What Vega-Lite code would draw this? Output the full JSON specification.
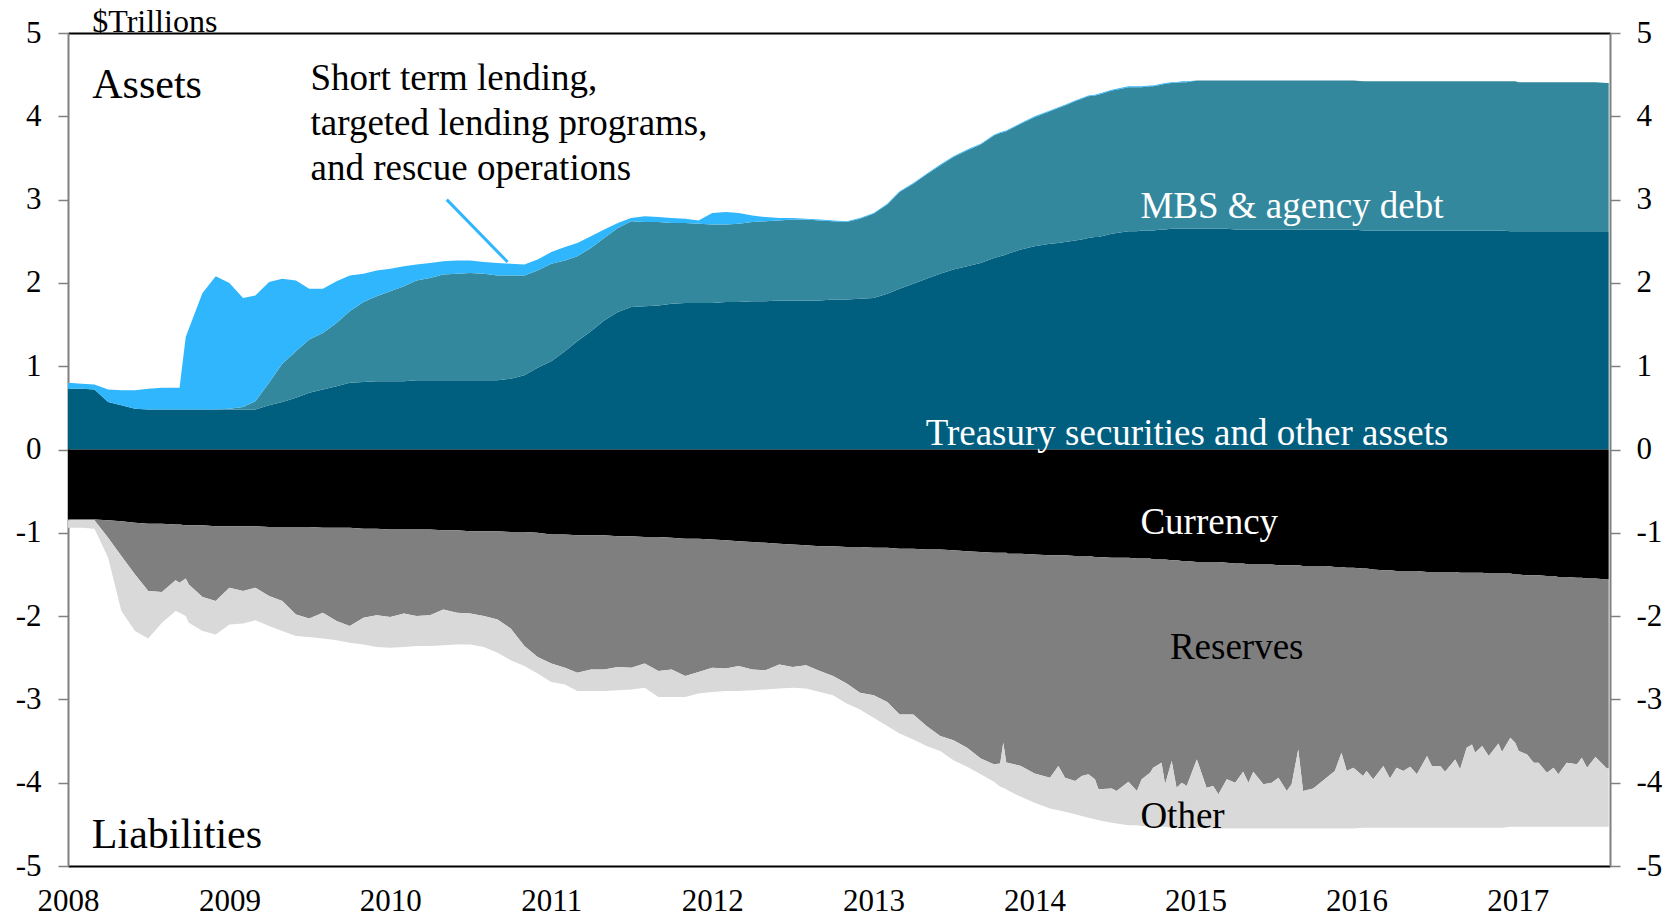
{
  "$schema": "https://vega.github.io/schema/vega-lite/v6.json",
  "width": 1542,
  "height": 833,
  "autosize": {"type": "none"},
  "padding": {"left": 68, "top": 33, "right": 70, "bottom": 52},
  "background": "white",
  "config": {
    "view": {"stroke": null},
    "font": "Liberation Serif",
    "axis": {"labelFont": "Liberation Serif", "labelFontSize": 31, "labelColor": "black", "grid": false, "title": null}
  },
  "datasets": {
    "stackorder": [
      {"series": "Treasury", "rank": 1},
      {"series": "MBS", "rank": 2},
      {"series": "Lending", "rank": 3},
      {"series": "Currency", "rank": 4},
      {"series": "Reserves", "rank": 5},
      {"series": "Other", "rank": 6}
    ],
    "balance": [
      {"d": "2008-01-01", "Treasury": 0.73, "MBS": 0, "Lending": 0.07, "Currency": -0.84, "Reserves": -0.01, "Other": -0.09},
      {"d": "2008-02-01", "Treasury": 0.73, "MBS": 0, "Lending": 0.06, "Currency": -0.84, "Reserves": -0.01, "Other": -0.09},
      {"d": "2008-03-01", "Treasury": 0.72, "MBS": 0, "Lending": 0.06, "Currency": -0.84, "Reserves": -0.01, "Other": -0.10},
      {"d": "2008-04-01", "Treasury": 0.57, "MBS": 0, "Lending": 0.15, "Currency": -0.85, "Reserves": -0.21, "Other": -0.24},
      {"d": "2008-05-01", "Treasury": 0.53, "MBS": 0, "Lending": 0.18, "Currency": -0.86, "Reserves": -0.42, "Other": -0.66},
      {"d": "2008-06-01", "Treasury": 0.49, "MBS": 0, "Lending": 0.22, "Currency": -0.88, "Reserves": -0.62, "Other": -0.68},
      {"d": "2008-07-01", "Treasury": 0.48, "MBS": 0, "Lending": 0.25, "Currency": -0.89, "Reserves": -0.81, "Other": -0.57},
      {"d": "2008-08-01", "Treasury": 0.48, "MBS": 0, "Lending": 0.26, "Currency": -0.89, "Reserves": -0.82, "Other": -0.37},
      {"d": "2008-09-01", "Treasury": 0.48, "MBS": 0, "Lending": 0.26, "Currency": -0.90, "Reserves": -0.67, "Other": -0.37},
      {"d": "2008-09-10", "Treasury": 0.48, "MBS": 0, "Lending": 0.26, "Currency": -0.90, "Reserves": -0.70, "Other": -0.36},
      {"d": "2008-09-24", "Treasury": 0.48, "MBS": 0, "Lending": 0.87, "Currency": -0.91, "Reserves": -0.64, "Other": -0.45},
      {"d": "2008-10-01", "Treasury": 0.48, "MBS": 0, "Lending": 0.97, "Currency": -0.91, "Reserves": -0.71, "Other": -0.46},
      {"d": "2008-11-01", "Treasury": 0.48, "MBS": 0, "Lending": 1.40, "Currency": -0.91, "Reserves": -0.86, "Other": -0.41},
      {"d": "2008-12-01", "Treasury": 0.48, "MBS": 0, "Lending": 1.60, "Currency": -0.92, "Reserves": -0.90, "Other": -0.40},
      {"d": "2009-01-01", "Treasury": 0.48, "MBS": 0.01, "Lending": 1.51, "Currency": -0.92, "Reserves": -0.74, "Other": -0.44},
      {"d": "2009-02-01", "Treasury": 0.48, "MBS": 0.03, "Lending": 1.31, "Currency": -0.92, "Reserves": -0.78, "Other": -0.39},
      {"d": "2009-03-01", "Treasury": 0.48, "MBS": 0.10, "Lending": 1.27, "Currency": -0.92, "Reserves": -0.74, "Other": -0.39},
      {"d": "2009-04-01", "Treasury": 0.53, "MBS": 0.27, "Lending": 1.21, "Currency": -0.93, "Reserves": -0.83, "Other": -0.36},
      {"d": "2009-05-01", "Treasury": 0.57, "MBS": 0.46, "Lending": 1.02, "Currency": -0.93, "Reserves": -0.89, "Other": -0.36},
      {"d": "2009-06-01", "Treasury": 0.62, "MBS": 0.56, "Lending": 0.85, "Currency": -0.93, "Reserves": -1.05, "Other": -0.26},
      {"d": "2009-07-01", "Treasury": 0.68, "MBS": 0.64, "Lending": 0.61, "Currency": -0.93, "Reserves": -1.10, "Other": -0.22},
      {"d": "2009-08-01", "Treasury": 0.72, "MBS": 0.68, "Lending": 0.53, "Currency": -0.94, "Reserves": -1.02, "Other": -0.31},
      {"d": "2009-09-01", "Treasury": 0.76, "MBS": 0.76, "Lending": 0.50, "Currency": -0.94, "Reserves": -1.12, "Other": -0.23},
      {"d": "2009-10-01", "Treasury": 0.80, "MBS": 0.86, "Lending": 0.43, "Currency": -0.94, "Reserves": -1.18, "Other": -0.20},
      {"d": "2009-11-01", "Treasury": 0.81, "MBS": 0.96, "Lending": 0.34, "Currency": -0.95, "Reserves": -1.07, "Other": -0.32},
      {"d": "2009-12-01", "Treasury": 0.82, "MBS": 1.02, "Lending": 0.31, "Currency": -0.95, "Reserves": -1.04, "Other": -0.38},
      {"d": "2010-01-01", "Treasury": 0.82, "MBS": 1.08, "Lending": 0.27, "Currency": -0.96, "Reserves": -1.05, "Other": -0.37},
      {"d": "2010-02-01", "Treasury": 0.82, "MBS": 1.14, "Lending": 0.24, "Currency": -0.96, "Reserves": -1.01, "Other": -0.40},
      {"d": "2010-03-01", "Treasury": 0.83, "MBS": 1.20, "Lending": 0.19, "Currency": -0.96, "Reserves": -1.04, "Other": -0.36},
      {"d": "2010-04-01", "Treasury": 0.83, "MBS": 1.23, "Lending": 0.18, "Currency": -0.96, "Reserves": -1.03, "Other": -0.37},
      {"d": "2010-05-01", "Treasury": 0.83, "MBS": 1.27, "Lending": 0.16, "Currency": -0.97, "Reserves": -0.95, "Other": -0.43},
      {"d": "2010-06-01", "Treasury": 0.83, "MBS": 1.28, "Lending": 0.16, "Currency": -0.97, "Reserves": -0.99, "Other": -0.38},
      {"d": "2010-07-01", "Treasury": 0.83, "MBS": 1.29, "Lending": 0.15, "Currency": -0.98, "Reserves": -0.99, "Other": -0.37},
      {"d": "2010-08-01", "Treasury": 0.83, "MBS": 1.28, "Lending": 0.14, "Currency": -0.98, "Reserves": -1.02, "Other": -0.37},
      {"d": "2010-09-01", "Treasury": 0.83, "MBS": 1.26, "Lending": 0.15, "Currency": -0.98, "Reserves": -1.06, "Other": -0.40},
      {"d": "2010-10-01", "Treasury": 0.85, "MBS": 1.24, "Lending": 0.14, "Currency": -0.99, "Reserves": -1.16, "Other": -0.38},
      {"d": "2010-11-01", "Treasury": 0.89, "MBS": 1.20, "Lending": 0.13, "Currency": -0.99, "Reserves": -1.37, "Other": -0.24},
      {"d": "2010-12-01", "Treasury": 0.98, "MBS": 1.17, "Lending": 0.13, "Currency": -1.00, "Reserves": -1.49, "Other": -0.20},
      {"d": "2011-01-01", "Treasury": 1.06, "MBS": 1.17, "Lending": 0.14, "Currency": -1.02, "Reserves": -1.55, "Other": -0.22},
      {"d": "2011-02-01", "Treasury": 1.18, "MBS": 1.09, "Lending": 0.16, "Currency": -1.02, "Reserves": -1.60, "Other": -0.20},
      {"d": "2011-03-01", "Treasury": 1.30, "MBS": 1.02, "Lending": 0.16, "Currency": -1.03, "Reserves": -1.65, "Other": -0.22},
      {"d": "2011-04-01", "Treasury": 1.42, "MBS": 1.00, "Lending": 0.14, "Currency": -1.03, "Reserves": -1.61, "Other": -0.26},
      {"d": "2011-05-01", "Treasury": 1.55, "MBS": 0.99, "Lending": 0.10, "Currency": -1.03, "Reserves": -1.61, "Other": -0.26},
      {"d": "2011-06-01", "Treasury": 1.65, "MBS": 1.01, "Lending": 0.06, "Currency": -1.04, "Reserves": -1.57, "Other": -0.28},
      {"d": "2011-07-01", "Treasury": 1.71, "MBS": 1.03, "Lending": 0.04, "Currency": -1.04, "Reserves": -1.58, "Other": -0.26},
      {"d": "2011-08-01", "Treasury": 1.72, "MBS": 1.01, "Lending": 0.07, "Currency": -1.05, "Reserves": -1.52, "Other": -0.29},
      {"d": "2011-09-01", "Treasury": 1.73, "MBS": 1.00, "Lending": 0.06, "Currency": -1.05, "Reserves": -1.61, "Other": -0.31},
      {"d": "2011-10-01", "Treasury": 1.75, "MBS": 0.97, "Lending": 0.06, "Currency": -1.06, "Reserves": -1.58, "Other": -0.33},
      {"d": "2011-11-01", "Treasury": 1.76, "MBS": 0.96, "Lending": 0.05, "Currency": -1.07, "Reserves": -1.65, "Other": -0.25},
      {"d": "2011-12-01", "Treasury": 1.76, "MBS": 0.95, "Lending": 0.04, "Currency": -1.07, "Reserves": -1.60, "Other": -0.26},
      {"d": "2012-01-01", "Treasury": 1.76, "MBS": 0.94, "Lending": 0.14, "Currency": -1.08, "Reserves": -1.54, "Other": -0.29},
      {"d": "2012-02-01", "Treasury": 1.77, "MBS": 0.93, "Lending": 0.15, "Currency": -1.09, "Reserves": -1.54, "Other": -0.27},
      {"d": "2012-03-01", "Treasury": 1.77, "MBS": 0.94, "Lending": 0.13, "Currency": -1.10, "Reserves": -1.50, "Other": -0.30},
      {"d": "2012-04-01", "Treasury": 1.78, "MBS": 0.95, "Lending": 0.08, "Currency": -1.11, "Reserves": -1.53, "Other": -0.25},
      {"d": "2012-05-01", "Treasury": 1.78, "MBS": 0.96, "Lending": 0.05, "Currency": -1.12, "Reserves": -1.53, "Other": -0.23},
      {"d": "2012-06-01", "Treasury": 1.79, "MBS": 0.96, "Lending": 0.03, "Currency": -1.13, "Reserves": -1.45, "Other": -0.29},
      {"d": "2012-07-01", "Treasury": 1.79, "MBS": 0.97, "Lending": 0.02, "Currency": -1.14, "Reserves": -1.47, "Other": -0.25},
      {"d": "2012-08-01", "Treasury": 1.79, "MBS": 0.97, "Lending": 0.01, "Currency": -1.15, "Reserves": -1.44, "Other": -0.28},
      {"d": "2012-09-01", "Treasury": 1.79, "MBS": 0.96, "Lending": 0.01, "Currency": -1.16, "Reserves": -1.50, "Other": -0.25},
      {"d": "2012-10-01", "Treasury": 1.80, "MBS": 0.94, "Lending": 0.01, "Currency": -1.16, "Reserves": -1.56, "Other": -0.23},
      {"d": "2012-11-01", "Treasury": 1.80, "MBS": 0.93, "Lending": 0.01, "Currency": -1.17, "Reserves": -1.64, "Other": -0.24},
      {"d": "2012-12-01", "Treasury": 1.81, "MBS": 0.96, "Lending": 0.01, "Currency": -1.17, "Reserves": -1.75, "Other": -0.20},
      {"d": "2013-01-01", "Treasury": 1.82, "MBS": 1.01, "Lending": 0.01, "Currency": -1.18, "Reserves": -1.77, "Other": -0.27},
      {"d": "2013-02-01", "Treasury": 1.87, "MBS": 1.07, "Lending": 0.01, "Currency": -1.18, "Reserves": -1.85, "Other": -0.29},
      {"d": "2013-03-01", "Treasury": 1.93, "MBS": 1.16, "Lending": 0.01, "Currency": -1.19, "Reserves": -1.99, "Other": -0.23},
      {"d": "2013-04-01", "Treasury": 1.99, "MBS": 1.20, "Lending": 0.01, "Currency": -1.19, "Reserves": -1.99, "Other": -0.30},
      {"d": "2013-05-01", "Treasury": 2.05, "MBS": 1.25, "Lending": 0.01, "Currency": -1.20, "Reserves": -2.12, "Other": -0.24},
      {"d": "2013-06-01", "Treasury": 2.11, "MBS": 1.30, "Lending": 0.01, "Currency": -1.20, "Reserves": -2.24, "Other": -0.18},
      {"d": "2013-07-01", "Treasury": 2.16, "MBS": 1.35, "Lending": 0.01, "Currency": -1.21, "Reserves": -2.28, "Other": -0.24},
      {"d": "2013-08-01", "Treasury": 2.20, "MBS": 1.39, "Lending": 0.01, "Currency": -1.22, "Reserves": -2.36, "Other": -0.23},
      {"d": "2013-09-01", "Treasury": 2.24, "MBS": 1.42, "Lending": 0.01, "Currency": -1.23, "Reserves": -2.48, "Other": -0.19},
      {"d": "2013-10-01", "Treasury": 2.30, "MBS": 1.47, "Lending": 0.01, "Currency": -1.24, "Reserves": -2.54, "Other": -0.21},
      {"d": "2013-10-15", "Treasury": 2.32, "MBS": 1.48, "Lending": 0.01, "Currency": -1.24, "Reserves": -2.53, "Other": -0.28},
      {"d": "2013-10-22", "Treasury": 2.33, "MBS": 1.48, "Lending": 0.01, "Currency": -1.24, "Reserves": -2.28, "Other": -0.54},
      {"d": "2013-10-29", "Treasury": 2.34, "MBS": 1.48, "Lending": 0.01, "Currency": -1.24, "Reserves": -2.52, "Other": -0.32},
      {"d": "2013-11-01", "Treasury": 2.35, "MBS": 1.48, "Lending": 0.01, "Currency": -1.25, "Reserves": -2.51, "Other": -0.33},
      {"d": "2013-12-01", "Treasury": 2.40, "MBS": 1.51, "Lending": 0.01, "Currency": -1.25, "Reserves": -2.55, "Other": -0.37},
      {"d": "2014-01-01", "Treasury": 2.44, "MBS": 1.55, "Lending": 0.01, "Currency": -1.26, "Reserves": -2.63, "Other": -0.35},
      {"d": "2014-02-05", "Treasury": 2.47, "MBS": 1.59, "Lending": 0.01, "Currency": -1.27, "Reserves": -2.67, "Other": -0.37},
      {"d": "2014-02-24", "Treasury": 2.48, "MBS": 1.62, "Lending": 0.01, "Currency": -1.27, "Reserves": -2.53, "Other": -0.53},
      {"d": "2014-03-11", "Treasury": 2.49, "MBS": 1.64, "Lending": 0.01, "Currency": -1.27, "Reserves": -2.67, "Other": -0.41},
      {"d": "2014-04-03", "Treasury": 2.51, "MBS": 1.67, "Lending": 0.01, "Currency": -1.28, "Reserves": -2.70, "Other": -0.40},
      {"d": "2014-04-18", "Treasury": 2.52, "MBS": 1.69, "Lending": 0.01, "Currency": -1.28, "Reserves": -2.64, "Other": -0.48},
      {"d": "2014-05-03", "Treasury": 2.54, "MBS": 1.70, "Lending": 0.01, "Currency": -1.28, "Reserves": -2.62, "Other": -0.52},
      {"d": "2014-05-18", "Treasury": 2.55, "MBS": 1.70, "Lending": 0.01, "Currency": -1.29, "Reserves": -2.67, "Other": -0.48},
      {"d": "2014-05-26", "Treasury": 2.55, "MBS": 1.71, "Lending": 0.01, "Currency": -1.29, "Reserves": -2.79, "Other": -0.37},
      {"d": "2014-06-25", "Treasury": 2.59, "MBS": 1.72, "Lending": 0.01, "Currency": -1.30, "Reserves": -2.77, "Other": -0.41},
      {"d": "2014-07-06", "Treasury": 2.60, "MBS": 1.72, "Lending": 0.01, "Currency": -1.30, "Reserves": -2.80, "Other": -0.39},
      {"d": "2014-08-02", "Treasury": 2.62, "MBS": 1.73, "Lending": 0.01, "Currency": -1.30, "Reserves": -2.69, "Other": -0.52},
      {"d": "2014-08-21", "Treasury": 2.62, "MBS": 1.73, "Lending": 0.01, "Currency": -1.31, "Reserves": -2.79, "Other": -0.41},
      {"d": "2014-09-01", "Treasury": 2.63, "MBS": 1.72, "Lending": 0.01, "Currency": -1.31, "Reserves": -2.65, "Other": -0.56},
      {"d": "2014-09-20", "Treasury": 2.63, "MBS": 1.73, "Lending": 0.01, "Currency": -1.31, "Reserves": -2.57, "Other": -0.64},
      {"d": "2014-09-27", "Treasury": 2.63, "MBS": 1.73, "Lending": 0.01, "Currency": -1.32, "Reserves": -2.50, "Other": -0.70},
      {"d": "2014-10-16", "Treasury": 2.64, "MBS": 1.74, "Lending": 0.01, "Currency": -1.32, "Reserves": -2.44, "Other": -0.77},
      {"d": "2014-10-24", "Treasury": 2.64, "MBS": 1.75, "Lending": 0.01, "Currency": -1.32, "Reserves": -2.70, "Other": -0.51},
      {"d": "2014-11-08", "Treasury": 2.65, "MBS": 1.75, "Lending": 0.01, "Currency": -1.33, "Reserves": -2.41, "Other": -0.80},
      {"d": "2014-11-19", "Treasury": 2.65, "MBS": 1.75, "Lending": 0.01, "Currency": -1.33, "Reserves": -2.73, "Other": -0.48},
      {"d": "2014-12-01", "Treasury": 2.65, "MBS": 1.76, "Lending": 0.01, "Currency": -1.34, "Reserves": -2.66, "Other": -0.54},
      {"d": "2014-12-12", "Treasury": 2.65, "MBS": 1.76, "Lending": 0.01, "Currency": -1.34, "Reserves": -2.70, "Other": -0.50},
      {"d": "2015-01-04", "Treasury": 2.65, "MBS": 1.78, "Lending": 0, "Currency": -1.35, "Reserves": -2.37, "Other": -0.82},
      {"d": "2015-01-26", "Treasury": 2.65, "MBS": 1.78, "Lending": 0, "Currency": -1.35, "Reserves": -2.71, "Other": -0.48},
      {"d": "2015-02-10", "Treasury": 2.65, "MBS": 1.78, "Lending": 0, "Currency": -1.35, "Reserves": -2.69, "Other": -0.51},
      {"d": "2015-02-22", "Treasury": 2.65, "MBS": 1.78, "Lending": 0, "Currency": -1.35, "Reserves": -2.79, "Other": -0.41},
      {"d": "2015-03-13", "Treasury": 2.65, "MBS": 1.78, "Lending": 0, "Currency": -1.36, "Reserves": -2.60, "Other": -0.59},
      {"d": "2015-04-01", "Treasury": 2.64, "MBS": 1.79, "Lending": 0, "Currency": -1.37, "Reserves": -2.63, "Other": -0.55},
      {"d": "2015-04-19", "Treasury": 2.64, "MBS": 1.79, "Lending": 0, "Currency": -1.37, "Reserves": -2.50, "Other": -0.68},
      {"d": "2015-05-01", "Treasury": 2.64, "MBS": 1.79, "Lending": 0, "Currency": -1.38, "Reserves": -2.62, "Other": -0.55},
      {"d": "2015-05-12", "Treasury": 2.64, "MBS": 1.79, "Lending": 0, "Currency": -1.38, "Reserves": -2.49, "Other": -0.68},
      {"d": "2015-06-04", "Treasury": 2.64, "MBS": 1.79, "Lending": 0, "Currency": -1.38, "Reserves": -2.64, "Other": -0.53},
      {"d": "2015-06-23", "Treasury": 2.64, "MBS": 1.79, "Lending": 0, "Currency": -1.38, "Reserves": -2.62, "Other": -0.55},
      {"d": "2015-07-08", "Treasury": 2.64, "MBS": 1.79, "Lending": 0, "Currency": -1.39, "Reserves": -2.55, "Other": -0.61},
      {"d": "2015-07-27", "Treasury": 2.64, "MBS": 1.79, "Lending": 0, "Currency": -1.39, "Reserves": -2.71, "Other": -0.45},
      {"d": "2015-08-07", "Treasury": 2.64, "MBS": 1.79, "Lending": 0, "Currency": -1.39, "Reserves": -2.63, "Other": -0.53},
      {"d": "2015-08-22", "Treasury": 2.64, "MBS": 1.79, "Lending": 0, "Currency": -1.39, "Reserves": -2.21, "Other": -0.95},
      {"d": "2015-09-02", "Treasury": 2.64, "MBS": 1.79, "Lending": 0, "Currency": -1.40, "Reserves": -2.70, "Other": -0.45},
      {"d": "2015-09-25", "Treasury": 2.64, "MBS": 1.79, "Lending": 0, "Currency": -1.40, "Reserves": -2.67, "Other": -0.48},
      {"d": "2015-10-25", "Treasury": 2.64, "MBS": 1.79, "Lending": 0, "Currency": -1.40, "Reserves": -2.54, "Other": -0.61},
      {"d": "2015-11-13", "Treasury": 2.64, "MBS": 1.79, "Lending": 0, "Currency": -1.41, "Reserves": -2.45, "Other": -0.69},
      {"d": "2015-11-28", "Treasury": 2.64, "MBS": 1.79, "Lending": 0, "Currency": -1.41, "Reserves": -2.23, "Other": -0.91},
      {"d": "2015-12-10", "Treasury": 2.64, "MBS": 1.79, "Lending": 0, "Currency": -1.42, "Reserves": -2.44, "Other": -0.69},
      {"d": "2015-12-25", "Treasury": 2.64, "MBS": 1.79, "Lending": 0, "Currency": -1.42, "Reserves": -2.40, "Other": -0.73},
      {"d": "2016-01-16", "Treasury": 2.63, "MBS": 1.79, "Lending": 0, "Currency": -1.43, "Reserves": -2.49, "Other": -0.62},
      {"d": "2016-01-24", "Treasury": 2.63, "MBS": 1.79, "Lending": 0, "Currency": -1.43, "Reserves": -2.43, "Other": -0.68},
      {"d": "2016-02-08", "Treasury": 2.63, "MBS": 1.79, "Lending": 0, "Currency": -1.44, "Reserves": -2.52, "Other": -0.58},
      {"d": "2016-03-02", "Treasury": 2.63, "MBS": 1.79, "Lending": 0, "Currency": -1.45, "Reserves": -2.35, "Other": -0.74},
      {"d": "2016-03-17", "Treasury": 2.63, "MBS": 1.79, "Lending": 0, "Currency": -1.45, "Reserves": -2.50, "Other": -0.59},
      {"d": "2016-04-01", "Treasury": 2.63, "MBS": 1.79, "Lending": 0, "Currency": -1.46, "Reserves": -2.36, "Other": -0.72},
      {"d": "2016-04-16", "Treasury": 2.63, "MBS": 1.79, "Lending": 0, "Currency": -1.46, "Reserves": -2.40, "Other": -0.68},
      {"d": "2016-05-02", "Treasury": 2.63, "MBS": 1.79, "Lending": 0, "Currency": -1.46, "Reserves": -2.35, "Other": -0.73},
      {"d": "2016-05-17", "Treasury": 2.63, "MBS": 1.79, "Lending": 0, "Currency": -1.46, "Reserves": -2.44, "Other": -0.64},
      {"d": "2016-06-09", "Treasury": 2.63, "MBS": 1.79, "Lending": 0, "Currency": -1.47, "Reserves": -2.21, "Other": -0.86},
      {"d": "2016-06-20", "Treasury": 2.63, "MBS": 1.79, "Lending": 0, "Currency": -1.47, "Reserves": -2.33, "Other": -0.74},
      {"d": "2016-07-09", "Treasury": 2.63, "MBS": 1.79, "Lending": 0, "Currency": -1.47, "Reserves": -2.33, "Other": -0.74},
      {"d": "2016-07-20", "Treasury": 2.63, "MBS": 1.79, "Lending": 0, "Currency": -1.47, "Reserves": -2.40, "Other": -0.67},
      {"d": "2016-08-12", "Treasury": 2.63, "MBS": 1.79, "Lending": 0, "Currency": -1.47, "Reserves": -2.25, "Other": -0.82},
      {"d": "2016-08-23", "Treasury": 2.63, "MBS": 1.79, "Lending": 0, "Currency": -1.48, "Reserves": -2.36, "Other": -0.70},
      {"d": "2016-09-07", "Treasury": 2.63, "MBS": 1.79, "Lending": 0, "Currency": -1.48, "Reserves": -2.10, "Other": -0.96},
      {"d": "2016-09-19", "Treasury": 2.63, "MBS": 1.79, "Lending": 0, "Currency": -1.48, "Reserves": -2.06, "Other": -1.00},
      {"d": "2016-09-26", "Treasury": 2.63, "MBS": 1.79, "Lending": 0, "Currency": -1.48, "Reserves": -2.16, "Other": -0.90},
      {"d": "2016-10-12", "Treasury": 2.63, "MBS": 1.79, "Lending": 0, "Currency": -1.48, "Reserves": -2.08, "Other": -0.98},
      {"d": "2016-10-27", "Treasury": 2.63, "MBS": 1.79, "Lending": 0, "Currency": -1.49, "Reserves": -2.19, "Other": -0.86},
      {"d": "2016-11-18", "Treasury": 2.63, "MBS": 1.79, "Lending": 0, "Currency": -1.49, "Reserves": -2.04, "Other": -1.01},
      {"d": "2016-11-26", "Treasury": 2.63, "MBS": 1.79, "Lending": 0, "Currency": -1.49, "Reserves": -2.14, "Other": -0.91},
      {"d": "2016-12-15", "Treasury": 2.62, "MBS": 1.80, "Lending": 0, "Currency": -1.49, "Reserves": -1.97, "Other": -1.07},
      {"d": "2016-12-26", "Treasury": 2.62, "MBS": 1.80, "Lending": 0, "Currency": -1.50, "Reserves": -2.02, "Other": -1.01},
      {"d": "2017-01-03", "Treasury": 2.62, "MBS": 1.79, "Lending": 0, "Currency": -1.50, "Reserves": -2.12, "Other": -0.91},
      {"d": "2017-01-22", "Treasury": 2.62, "MBS": 1.79, "Lending": 0, "Currency": -1.51, "Reserves": -2.15, "Other": -0.87},
      {"d": "2017-02-06", "Treasury": 2.62, "MBS": 1.79, "Lending": 0, "Currency": -1.51, "Reserves": -2.25, "Other": -0.77},
      {"d": "2017-02-17", "Treasury": 2.62, "MBS": 1.79, "Lending": 0, "Currency": -1.51, "Reserves": -2.25, "Other": -0.77},
      {"d": "2017-03-08", "Treasury": 2.62, "MBS": 1.79, "Lending": 0, "Currency": -1.52, "Reserves": -2.36, "Other": -0.65},
      {"d": "2017-03-23", "Treasury": 2.62, "MBS": 1.79, "Lending": 0, "Currency": -1.52, "Reserves": -2.30, "Other": -0.71},
      {"d": "2017-04-03", "Treasury": 2.62, "MBS": 1.79, "Lending": 0, "Currency": -1.53, "Reserves": -2.37, "Other": -0.63},
      {"d": "2017-04-22", "Treasury": 2.62, "MBS": 1.79, "Lending": 0, "Currency": -1.53, "Reserves": -2.23, "Other": -0.77},
      {"d": "2017-05-15", "Treasury": 2.62, "MBS": 1.79, "Lending": 0, "Currency": -1.54, "Reserves": -2.24, "Other": -0.75},
      {"d": "2017-05-26", "Treasury": 2.62, "MBS": 1.79, "Lending": 0, "Currency": -1.54, "Reserves": -2.16, "Other": -0.83},
      {"d": "2017-06-07", "Treasury": 2.62, "MBS": 1.79, "Lending": 0, "Currency": -1.55, "Reserves": -2.27, "Other": -0.71},
      {"d": "2017-06-26", "Treasury": 2.62, "MBS": 1.79, "Lending": 0, "Currency": -1.55, "Reserves": -2.14, "Other": -0.84},
      {"d": "2017-07-22", "Treasury": 2.62, "MBS": 1.78, "Lending": 0, "Currency": -1.56, "Reserves": -2.27, "Other": -0.70},
      {"d": "2017-07-26", "Treasury": 2.62, "MBS": 1.78, "Lending": 0, "Currency": -1.56, "Reserves": -2.27, "Other": -0.70}
    ]
  },
  "layer": [
    {
      "data": {"name": "balance"},
      "transform": [
        {"fold": ["Treasury", "MBS", "Lending", "Currency", "Reserves", "Other"], "as": ["series", "v"]},
        {"lookup": "series", "from": {"data": {"name": "stackorder"}, "key": "series", "fields": ["rank"]}}
      ],
      "mark": {"type": "area", "interpolate": "linear"},
      "encoding": {
        "x": {
          "field": "d", "type": "temporal",
          "scale": {"type": "utc", "domain": [{"year": 2008, "month": 1, "date": 1, "utc": true}, {"year": 2017, "month": 7, "date": 29, "utc": true}]},
          "axis": {
            "orient": "bottom",
            "values": [
              {"year": 2008, "month": 1, "date": 1, "utc": true},
              {"year": 2009, "month": 1, "date": 1, "utc": true},
              {"year": 2010, "month": 1, "date": 1, "utc": true},
              {"year": 2011, "month": 1, "date": 1, "utc": true},
              {"year": 2012, "month": 1, "date": 1, "utc": true},
              {"year": 2013, "month": 1, "date": 1, "utc": true},
              {"year": 2014, "month": 1, "date": 1, "utc": true},
              {"year": 2015, "month": 1, "date": 1, "utc": true},
              {"year": 2016, "month": 1, "date": 1, "utc": true},
              {"year": 2017, "month": 1, "date": 1, "utc": true}
            ],
            "labelExpr": "utcFormat(datum.value, '%Y')",
            "ticks": false, "tickSize": 0,
            "labelPadding": 20,
            "labelFlush": false,
            "labelOverlap": false,
            "domainColor": "#000000", "domainWidth": 2
          }
        },
        "y": {
          "field": "v", "type": "quantitative", "stack": "zero",
          "scale": {"domain": [-5, 5], "nice": false, "zero": false},
          "axis": {
            "orient": "left",
            "values": [-5, -4, -3, -2, -1, 0, 1, 2, 3, 4, 5],
            "labelExpr": "'' + datum.value",
            "domainColor": "#808080", "domainWidth": 2,
            "tickColor": "#808080", "tickWidth": 1.5, "tickSize": 10,
            "labelPadding": 17,
            "labelFlush": false,
            "labelOverlap": false
          }
        },
        "color": {
          "field": "series", "type": "nominal",
          "scale": {
            "domain": ["Treasury", "MBS", "Lending", "Currency", "Reserves", "Other"],
            "range": ["#005E7F", "#34889E", "#30B6FC", "#000000", "#7F7F7F", "#D9D9D9"]
          },
          "legend": null
        },
        "order": {"field": "rank", "type": "quantitative"}
      }
    },
    {
      "data": {"values": [{"d": "2010-05-09", "v": 3.0, "d2": "2010-09-24", "v2": 2.25}]},
      "mark": {"type": "rule", "color": "#30B6FC", "strokeWidth": 3},
      "encoding": {
        "x": {
          "field": "d", "type": "temporal",
          "axis": {"orient": "top", "labels": false, "ticks": false, "domainColor": "#000000", "domainWidth": 2}
        },
        "x2": {"field": "d2"},
        "y": {
          "field": "v", "type": "quantitative",
          "axis": {
            "orient": "right",
            "values": [-5, -4, -3, -2, -1, 0, 1, 2, 3, 4, 5],
            "labelExpr": "'' + datum.value",
            "domainColor": "#808080", "domainWidth": 2,
            "tickColor": "#808080", "tickWidth": 1.5, "tickSize": 10,
            "labelPadding": 16,
            "labelFlush": false,
            "labelOverlap": false
          }
        },
        "y2": {"field": "v2"}
      }
    },
    {
      "data": {"values": [
        {"d": "2014-08-29", "v": 2.78, "label": "MBS & agency debt"},
        {"d": "2013-04-29", "v": 0.06, "label": "Treasury securities and other assets"},
        {"d": "2014-08-29", "v": -1.02, "label": "Currency"}
      ]},
      "mark": {"type": "text", "align": "left", "baseline": "alphabetic", "font": "Liberation Serif", "fontSize": 37, "color": "#FFFFFF"},
      "encoding": {
        "x": {"field": "d", "type": "temporal", "axis": null},
        "y": {"field": "v", "type": "quantitative", "axis": null},
        "text": {"field": "label"}
      }
    },
    {
      "data": {"values": [
        {"d": "2014-11-04", "v": -2.52, "label": "Reserves"},
        {"d": "2014-08-29", "v": -4.54, "label": "Other"},
        {"d": "2009-07-04", "v": 4.31, "label": "Short term lending,"},
        {"d": "2009-07-04", "v": 3.77, "label": "targeted lending programs,"},
        {"d": "2009-07-04", "v": 3.24, "label": "and rescue operations"}
      ]},
      "mark": {"type": "text", "align": "left", "baseline": "alphabetic", "font": "Liberation Serif", "fontSize": 37, "color": "#000000"},
      "encoding": {
        "x": {"field": "d", "type": "temporal", "axis": null},
        "y": {"field": "v", "type": "quantitative", "axis": null},
        "text": {"field": "label"}
      }
    },
    {
      "data": {"values": [
        {"d": "2008-02-25", "v": 4.22, "label": "Assets"},
        {"d": "2008-02-24", "v": -4.78, "label": "Liabilities"}
      ]},
      "mark": {"type": "text", "align": "left", "baseline": "alphabetic", "font": "Liberation Serif", "fontSize": 42, "color": "#000000"},
      "encoding": {
        "x": {"field": "d", "type": "temporal", "axis": null},
        "y": {"field": "v", "type": "quantitative", "axis": null},
        "text": {"field": "label"}
      }
    },
    {
      "data": {"values": [
        {"d": "2008-02-25", "v": 5.01, "label": "$Trillions"}
      ]},
      "mark": {"type": "text", "align": "left", "baseline": "alphabetic", "font": "Liberation Serif", "fontSize": 32, "color": "#000000"},
      "encoding": {
        "x": {"field": "d", "type": "temporal", "axis": null},
        "y": {"field": "v", "type": "quantitative", "axis": null},
        "text": {"field": "label"}
      }
    }
  ],
  "resolve": {"axis": {"x": "independent", "y": "independent"}}
}
